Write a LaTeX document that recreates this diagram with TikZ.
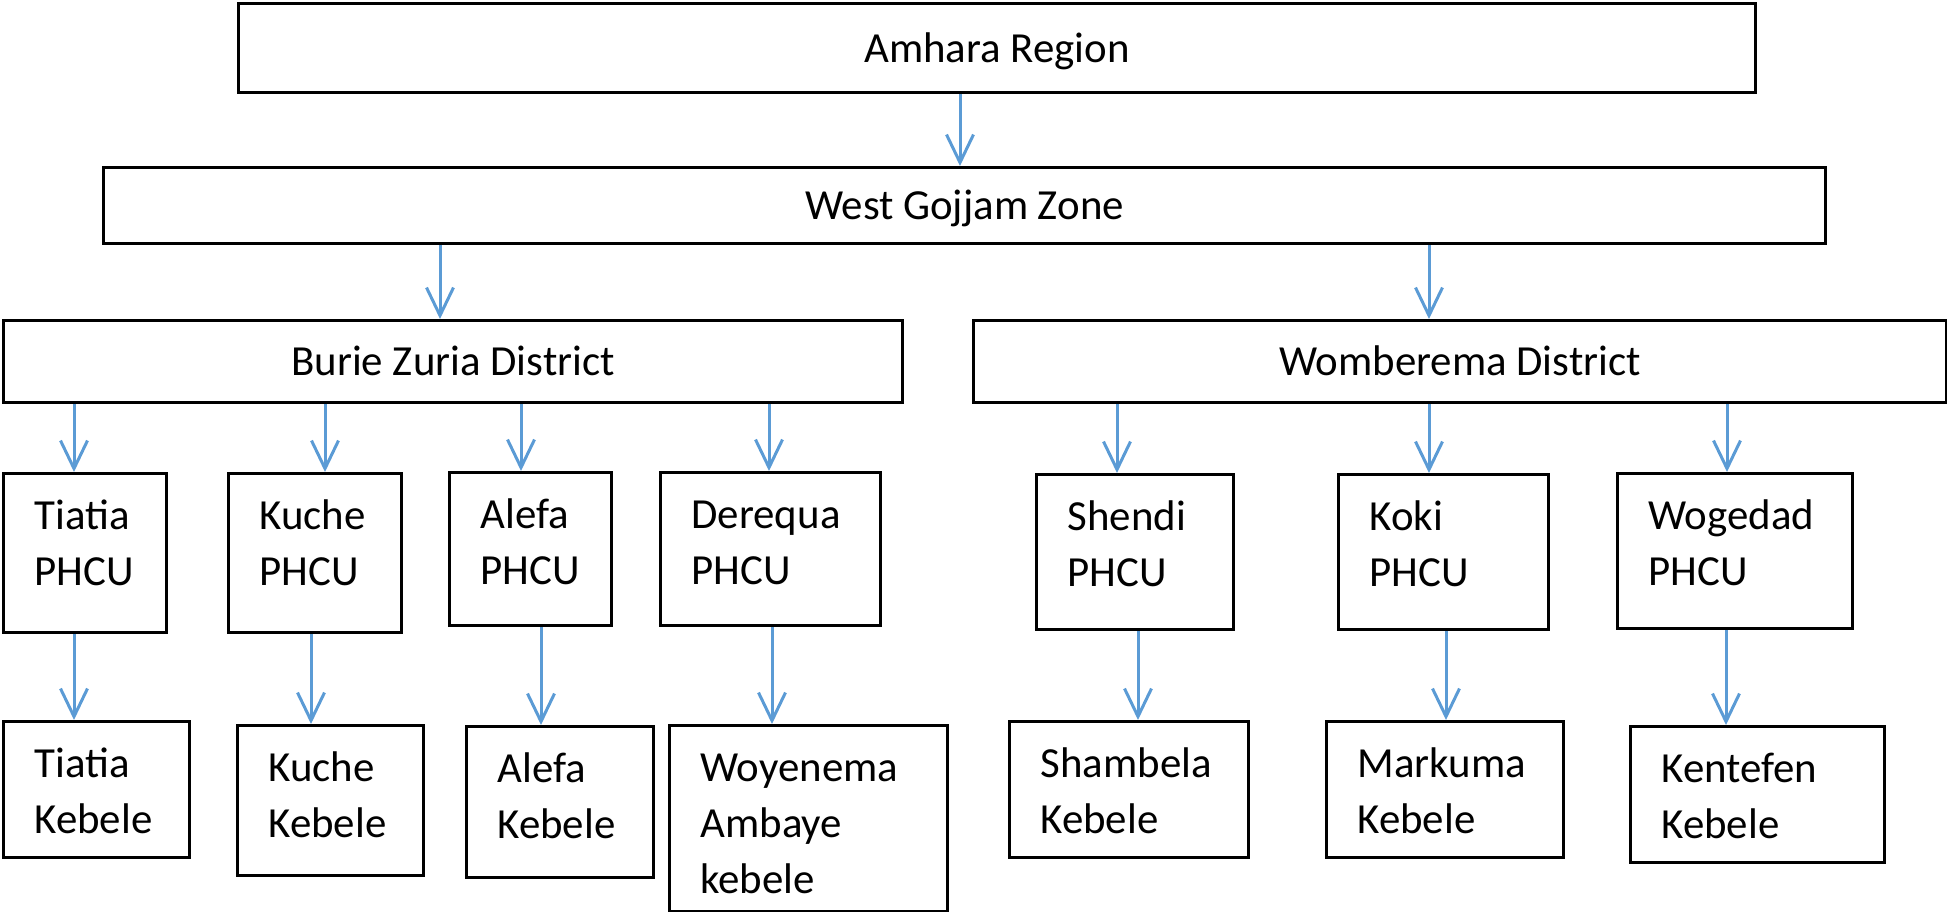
\documentclass[tikz,border=0pt]{standalone}
\usepackage{fontspec}
\setmainfont{Carlito}
\usetikzlibrary{arrows.meta}
\definecolor{linkblue}{HTML}{5B9BD5}
\hyphenpenalty=10000

\begin{document}
\begin{tikzpicture}[font=\fontsize{12.2pt}{15.9pt}\selectfont,
    level/.style={draw, line width=0.03cm, anchor=north west, inner sep=0pt, text height=0.28cm, text depth=0pt},
    unit/.style={draw, line width=0.03cm, anchor=north west, align=left, inner xsep=0.31cm, inner ysep=0pt, text height=0.56cm},
    link/.style={linkblue, line width=0.03cm, -{Straight Barb[length=0.28cm, width=0.27cm]}}]
\useasboundingbox (0,0) rectangle (19.47,-9.12);

% region, zone and districts
\node[level, minimum width=15.17cm, minimum height=0.89cm] (amhara) at (2.37,-0.02) {Amhara Region};
\node[level, minimum width=17.22cm, minimum height=0.76cm] (zone) at (1.02,-1.66) {West Gojjam Zone};
\node[level, minimum width=8.99cm, minimum height=0.82cm] (burie) at (0.02,-3.19) {Burie Zuria District};
\node[level, minimum width=9.73cm, minimum height=0.82cm] (womb) at (9.72,-3.19) {Womberema District};

% PHCUs and kebeles
\foreach \name/\x/\y/\tw/\d/\txt in {
    tiatiaP/0.02/-4.72/1.01/1.03/{Tiatia\\PHCU},
    kucheP/2.27/-4.72/1.11/1.03/{Kuche\\PHCU},
    alefaP/4.48/-4.71/1.00/0.97/{Alefa\\PHCU},
    derequaP/6.59/-4.71/1.58/0.97/{Derequa\\PHCU},
    shendiP/10.35/-4.73/1.35/0.99/{Shendi\\PHCU},
    kokiP/13.37/-4.73/1.48/0.99/{Koki\\PHCU},
    wogedadP/16.16/-4.72/1.73/0.99/{Wogedad\\PHCU},
    tiatiaK/0.02/-7.20/1.24/0.80/{Tiatia\\Kebele},
    kucheK/2.36/-7.24/1.24/0.94/{Kuche\\Kebele},
    alefaK/4.65/-7.25/1.25/0.95/{Alefa\\Kebele},
    woyenemaK/6.68/-7.24/2.16/1.30/{Woyenema\\Ambaye\\kebele},
    shambelaK/10.08/-7.20/1.77/0.80/{Shambela\\Kebele},
    markumaK/13.25/-7.20/1.75/0.80/{Markuma\\Kebele},
    kentefenK/16.29/-7.25/1.92/0.80/{Kentefen\\Kebele}} {
  \node[unit, text width=\tw cm, text depth=\d cm] (\name) at (\x,\y) {\txt};
}

% arrows
\foreach \from/\to/\x in {amhara/zone/9.60, zone/burie/4.40, zone/womb/14.29,
    burie/tiatiaP/0.74, burie/kucheP/3.25, burie/alefaP/5.21, burie/derequaP/7.69,
    womb/shendiP/11.17, womb/kokiP/14.29, womb/wogedadP/17.27,
    tiatiaP/tiatiaK/0.74, kucheP/kucheK/3.11, alefaP/alefaK/5.41, derequaP/woyenemaK/7.72,
    shendiP/shambelaK/11.38, kokiP/markumaK/14.46, wogedadP/kentefenK/17.26} {
  \draw[link] (\from.south -| \x,0) -- (\to.north -| \x,0);
}
\end{tikzpicture}
\end{document}
